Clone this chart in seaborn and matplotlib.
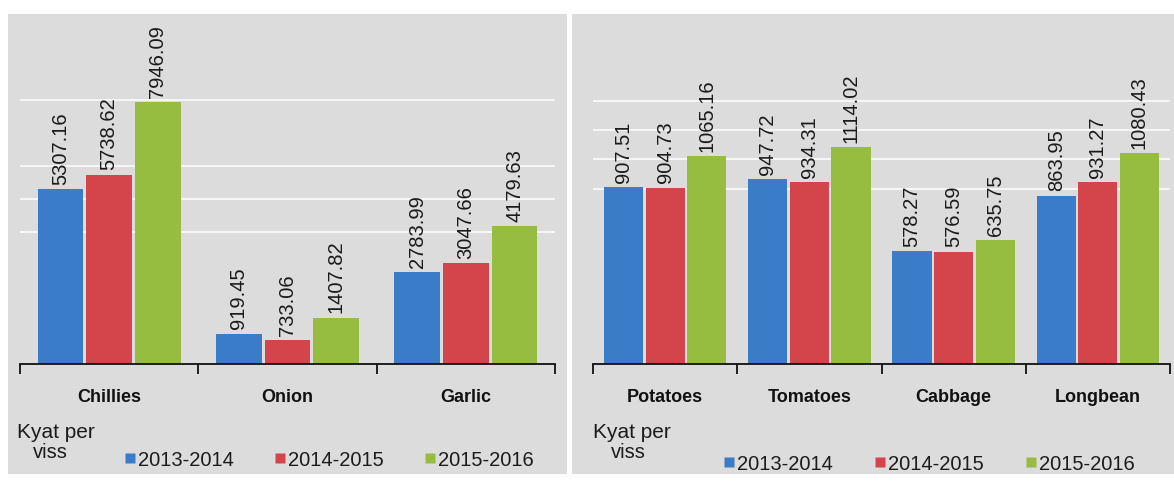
import numpy as np
import pandas as pd
import matplotlib
matplotlib.use("Agg")
import matplotlib.pyplot as plt
import seaborn as sns
from matplotlib.ticker import FixedLocator
from matplotlib.lines import Line2D
from matplotlib.patches import Rectangle

# Average prices (Kyat per viss) by season
years = ["2013-2014", "2014-2015", "2015-2016"]

spice_crops = ["Chillies", "Onion", "Garlic"]
spice_2013 = [5307.16, 919.45, 2783.99]
spice_2014 = [5738.62, 733.06, 3047.66]
spice_2015 = [7946.09, 1407.82, 4179.63]
spice_grid = [4000, 5000, 6000, 8000]

veg_crops = ["Potatoes", "Tomatoes", "Cabbage", "Longbean"]
veg_2013 = [907.51, 947.72, 578.27, 863.95]
veg_2014 = [904.73, 934.31, 576.59, 931.27]
veg_2015 = [1065.16, 1114.02, 635.75, 1080.43]
veg_grid = [900, 1050, 1200, 1350]

unit_line1 = "Kyat per"
unit_line2 = "viss"

colors = ["#3b7cc8", "#d3454b", "#97bd40"]
panel_bg = "#dcdcdc"

sns.set_theme(style="white")
plt.rcParams["font.family"] = ["Liberation Sans", "DejaVu Sans"]

W, H = 1174, 482
fig = plt.figure(figsize=(W / 100, H / 100), dpi=100)
fig.patch.set_facecolor("white")


def px_rect(x0, y0, x1, y1):
    return Rectangle((x0 / W, 1 - y1 / H), (x1 - x0) / W, (y1 - y0) / H,
                     transform=fig.transFigure, facecolor=panel_bg,
                     edgecolor="none", zorder=-10)


fig.patches.append(px_rect(8, 14, 567, 474))
fig.patches.append(px_rect(572, 14, 1174, 474))


def long_frame(crops, series):
    rows = []
    for year, vals in zip(years, series):
        for crop, v in zip(crops, vals):
            rows.append({"crop": crop, "year": year, "price": v})
    return pd.DataFrame(rows)


def draw_panel(rect, crops, series, ymax, grid_vals, width):
    x0, x1 = rect
    base_y, top_y = 364, 14
    ax = fig.add_axes([x0 / W, 1 - base_y / H, (x1 - x0) / W, (base_y - top_y) / H])
    ax.set_zorder(1)
    ax.set_facecolor("none")
    df = long_frame(crops, series)
    sns.barplot(data=df, x="crop", y="price", hue="year", order=crops,
                hue_order=years, palette=colors, saturation=1, width=width,
                gap=0.06, errorbar=None, legend=False, ax=ax, zorder=2,
                linewidth=0, edgecolor="none")
    n = len(crops)
    ax.set_xlim(-0.5, n - 0.5)
    ax.set_ylim(0, ymax)
    ax.yaxis.set_major_locator(FixedLocator(grid_vals))
    ax.grid(axis="y", color="white", linewidth=1.2, alpha=0.9)
    ax.set_axisbelow(True)
    for cont in ax.containers:
        ax.bar_label(cont, fmt="%.2f", rotation=90, padding=3,
                     fontsize=14.5, color="#1a1a1a")
    for side in ("left", "top", "right"):
        ax.spines[side].set_visible(False)
    ax.spines["bottom"].set_color("#111111")
    ax.spines["bottom"].set_linewidth(1.3)
    ax.tick_params(axis="y", left=False, labelleft=False)
    ax.set_xticks(range(n))
    ax.set_xticklabels(crops, fontweight="bold", fontsize=13)
    ax.tick_params(axis="x", which="major", length=0, pad=18, colors="#111111")
    ax.xaxis.set_minor_locator(FixedLocator(np.arange(-0.5, n, 1.0)))
    ax.tick_params(axis="x", which="minor", length=7, width=1.3,
                   color="#111111", direction="out", bottom=True)
    ax.set_xlabel("")
    ax.set_ylabel("")
    return ax


ax1 = draw_panel((20, 555), spice_crops, [spice_2013, spice_2014, spice_2015],
                 350 / 0.033, spice_grid, 0.82)
ax2 = draw_panel((593, 1170), veg_crops, [veg_2013, veg_2014, veg_2015],
                 350 / 0.195, veg_grid, 0.865)

handles = [Line2D([], [], linestyle="none", marker="s", markersize=7,
                  markerfacecolor=c, markeredgecolor="none") for c in colors]

for x_text, x_viss, x_leg, y_leg, spacing in [(17, 50, 125, 460, 2.05),
                                              (593, 628, 724, 464, 2.1)]:
    fig.text(x_text / W, 1 - 432 / H, unit_line1, fontsize=15,
             va="center", ha="left", color="#1c1c1c")
    fig.text(x_viss / W, 1 - 452 / H, unit_line2, fontsize=14.5,
             va="center", ha="center", color="#1c1c1c")
    fig.legend(handles, years, loc="center left",
               bbox_to_anchor=(x_leg / W, 1 - y_leg / H), ncol=3,
               frameon=False, fontsize=14.5, handlelength=0.5,
               handletextpad=0.15, columnspacing=spacing, borderpad=0,
               borderaxespad=0, labelcolor="#1c1c1c")

fig.savefig("out.png", dpi=100, facecolor="white")
